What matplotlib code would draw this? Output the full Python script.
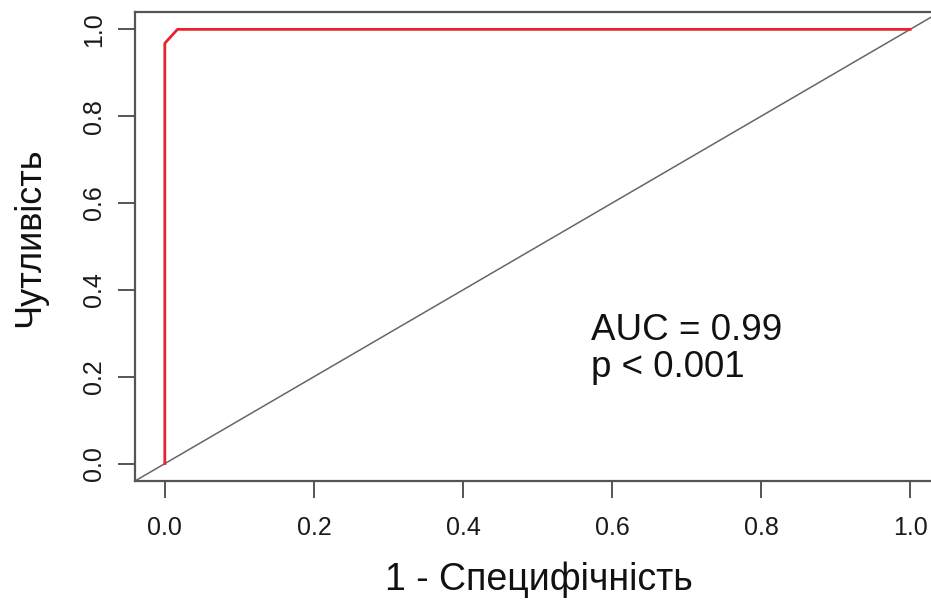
import matplotlib
matplotlib.use('Agg')
import matplotlib.pyplot as plt

plt.rcParams['font.family'] = ['Liberation Sans', 'DejaVu Sans']

# ROC curve points (1 - specificity, sensitivity)
fpr = [0.0, 0.0, 0.017, 1.0]
tpr = [0.0, 0.968, 1.0, 1.0]
ticks = [0.0, 0.2, 0.4, 0.6, 0.8, 1.0]
tick_labels = ['0.0', '0.2', '0.4', '0.6', '0.8', '1.0']
auc_text = 'AUC = 0.99\np < 0.001'

W, H = 931, 601
fig = plt.figure(figsize=(W / 100, H / 100), dpi=100)
# plot box runs a bit past the right edge of the picture (cropped like the original)
ax = fig.add_axes([135 / W, 1 - 481 / H, (940 - 135) / W, (481 - 12) / H])

edge = '#555555'
ax.plot([-0.04, 1.04], [-0.04, 1.04], color='#666666', lw=1.1, clip_on=True)
ax.plot(fpr, tpr, color='#e8232f', lw=2.0)

ax.set_xlim(-0.04, 1.04)
ax.set_ylim(-0.04, 1.04)
ax.set_xticks(ticks)
ax.set_xticklabels(tick_labels)
ax.set_yticks(ticks)
ax.set_yticklabels(tick_labels, rotation=90, va='center')

for s in ax.spines.values():
    s.set_color(edge)
    s.set_linewidth(1.6)
ax.tick_params(axis='both', direction='out', length=12, width=1.4, color=edge,
               labelsize=18, labelcolor='#1a1a1a')
ax.tick_params(axis='x', pad=13)
ax.tick_params(axis='y', pad=9)

ax.text(0.572, 0.347, auc_text, fontsize=26.5, color='#111111',
        ha='left', va='top', linespacing=1.08)

fig.text(539 / W, 1 - 580 / H, '1 - Специфічність', fontsize=27,
         ha='center', va='center', color='#111111')
fig.text(30 / W, 1 - 237 / H, 'Чутливість', fontsize=26, rotation=90,
         ha='center', va='center', color='#111111')

fig.savefig('out.png', dpi=100, facecolor='white')
